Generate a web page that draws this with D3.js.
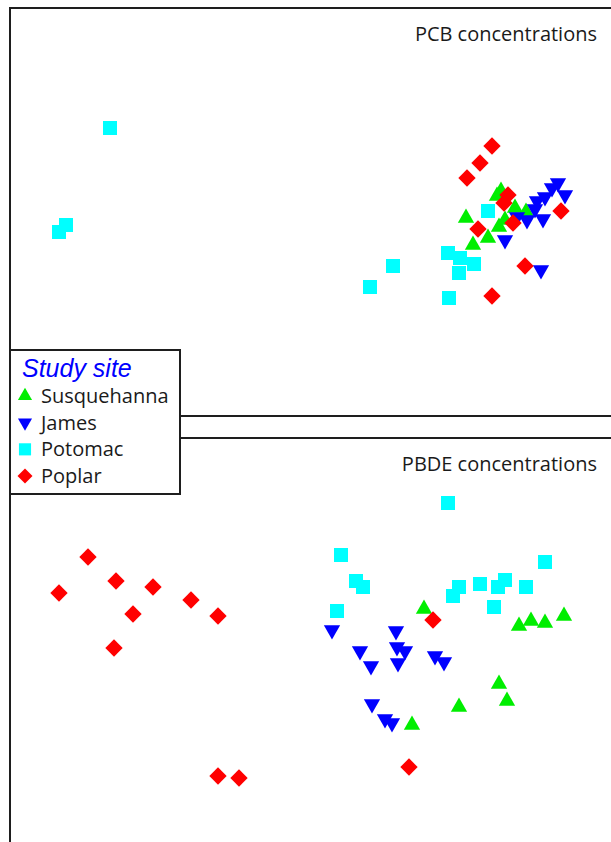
<!DOCTYPE html>
<html>
<head>
<meta charset="utf-8">
<script src="https://cdn.jsdelivr.net/npm/d3@7"></script>
<style>
  body { margin: 0; background: #fff; }
  svg { display: block; }
</style>
</head>
<body>
<script>
// NMDS scores, [axis1, axis2]
const sites = ["Susquehanna", "James", "Potomac", "Poplar"];

const pcbSusquehanna = [[1.91, 0.21], [1.87, 0.16], [1.56, -0.06], [2.05, 0.04], [2.16, 0.00],
    [1.95, -0.08], [1.89, -0.15], [1.78, -0.26], [1.63, -0.33]];
const pcbJames = [[2.48, 0.29], [2.42, 0.24], [2.55, 0.17], [2.35, 0.15], [2.27, 0.11], [2.25, 0.03],
    [2.07, -0.05], [2.17, -0.08], [2.33, -0.07], [1.95, -0.28], [2.31, -0.58]];
const pcbPotomac = [[-2.00, 0.84], [-2.44, -0.13], [-2.51, -0.20], [0.83, -0.54], [0.60, -0.75],
    [1.38, -0.41], [1.50, -0.46], [1.64, -0.52], [1.49, -0.61], [1.39, -0.86], [1.78, 0.01]];
const pcbPoplar = [[1.82, 0.66], [1.70, 0.49], [1.57, 0.34], [1.98, 0.17], [1.94, 0.09],
    [1.68, -0.17], [2.03, -0.11], [2.51, 0.01], [2.15, -0.54], [1.82, -0.84]];

const pbdeSusquehanna = [[1.14, 0.31], [2.09, 0.14], [2.21, 0.19], [2.35, 0.17], [2.54, 0.24],
    [1.89, -0.44], [1.97, -0.61], [1.49, -0.67], [1.02, -0.85]];
const pbdeJames = [[0.22, 0.10], [0.86, 0.09], [0.50, -0.11], [0.61, -0.26], [0.87, -0.07], [0.95, -0.11],
    [0.88, -0.23], [1.25, -0.16], [1.34, -0.22], [0.62, -0.64], [0.75, -0.79], [0.82, -0.83]];
const pbdePotomac = [[1.38, 1.37], [0.31, 0.85], [0.46, 0.59], [0.53, 0.53], [0.27, 0.29], [1.49, 0.53],
    [1.43, 0.44], [1.70, 0.56], [1.88, 0.53], [1.95, 0.60], [1.84, 0.33], [2.16, 0.53], [2.35, 0.78]];
const pbdePoplar = [[-2.22, 0.83], [-2.51, 0.47], [-1.94, 0.59], [-1.57, 0.53], [-1.77, 0.26],
    [-1.19, 0.40], [-0.92, 0.24], [-1.96, -0.08], [-0.92, -1.36], [-0.71, -1.38], [1.23, 0.20], [0.99, -1.27]];

const panelTitles = ["PCB concentrations", "PBDE concentrations"];
const legendTitle = "Study site";

const width = 611;
const height = 842;

// marker look per site
const colors = { Susquehanna: "#00ee00", James: "#0000ff", Potomac: "#00ffff", Poplar: "#ff0000" };
const shapes = {
    Susquehanna: { type: d3.symbolTriangle, size: 115, rotate: 0 },
    James: { type: d3.symbolTriangle, size: 115, rotate: 180 },
    Potomac: { type: d3.symbolSquare, size: 196, rotate: 0 },
    Poplar: { type: d3.symbolSquare, size: 150, rotate: 45 }
};

const svg = d3.select("body")
    .append("svg")
    .attr("width", width)
    .attr("height", height);

const panels = [
    { title: panelTitles[0], top: 8, bottom: 416, series: [pcbSusquehanna, pcbJames, pcbPotomac, pcbPoplar] },
    { title: panelTitles[1], top: 438, bottom: 842, series: [pbdeSusquehanna, pbdeJames, pbdePotomac, pbdePoplar] }
];

const x = d3.scaleLinear().domain([-3, 3.01]).range([10, 611]);

panels.forEach((p, pi) => {
    const half = (p.bottom - p.top) / 2 / 100;
    const y = d3.scaleLinear().domain([half, -half]).range([p.top, p.bottom]);

    // frame (right side and bottom run off the page)
    svg.append("rect")
        .attr("x", 10)
        .attr("y", p.top)
        .attr("width", 640)
        .attr("height", pi === 0 ? p.bottom - p.top : 500)
        .style("fill", "none")
        .style("stroke", "#1e1e1e")
        .style("stroke-width", 2);

    svg.append("text")
        .attr("x", 597)
        .attr("y", p.top + 33)
        .attr("text-anchor", "end")
        .style("font-family", "'Open Sans', 'Noto Sans', sans-serif")
        .style("font-size", "20px")
        .style("fill", "#1a1a1a")
        .text(p.title);

    const g = svg.append("g");
    sites.forEach((site, si) => {
        const s = shapes[site];
        g.selectAll(".pt-" + si)
            .data(p.series[si])
            .enter()
            .append("path")
            .attr("d", d3.symbol().type(s.type).size(s.size))
            .attr("transform", d => `translate(${x(d[0])},${y(d[1])}) rotate(${s.rotate})`)
            .style("fill", colors[site]);
    });
});

// legend box sits over both frames
const legend = svg.append("g");
legend.append("rect")
    .attr("x", 10)
    .attr("y", 350)
    .attr("width", 170)
    .attr("height", 144)
    .style("fill", "#fff")
    .style("stroke", "#1e1e1e")
    .style("stroke-width", 2);

legend.append("text")
    .attr("x", 22)
    .attr("y", 377)
    .style("font-family", "'Liberation Sans', Arial, sans-serif")
    .style("font-style", "italic")
    .style("font-size", "25px")
    .style("fill", "#0000ff")
    .text(legendTitle);

const legendY = d3.scalePoint().domain(sites).range([396, 476]);

sites.forEach(site => {
    const s = shapes[site];
    legend.append("path")
        .attr("d", d3.symbol().type(s.type).size(s.size * 0.75))
        .attr("transform", `translate(25,${legendY(site)}) rotate(${s.rotate})`)
        .style("fill", colors[site]);
    legend.append("text")
        .attr("x", 41)
        .attr("y", legendY(site) + 7)
        .style("font-family", "'Open Sans', 'Noto Sans', sans-serif")
        .style("font-size", "20px")
        .style("fill", "#1a1a1a")
        .text(site);
});
</script>
</body>
</html>
